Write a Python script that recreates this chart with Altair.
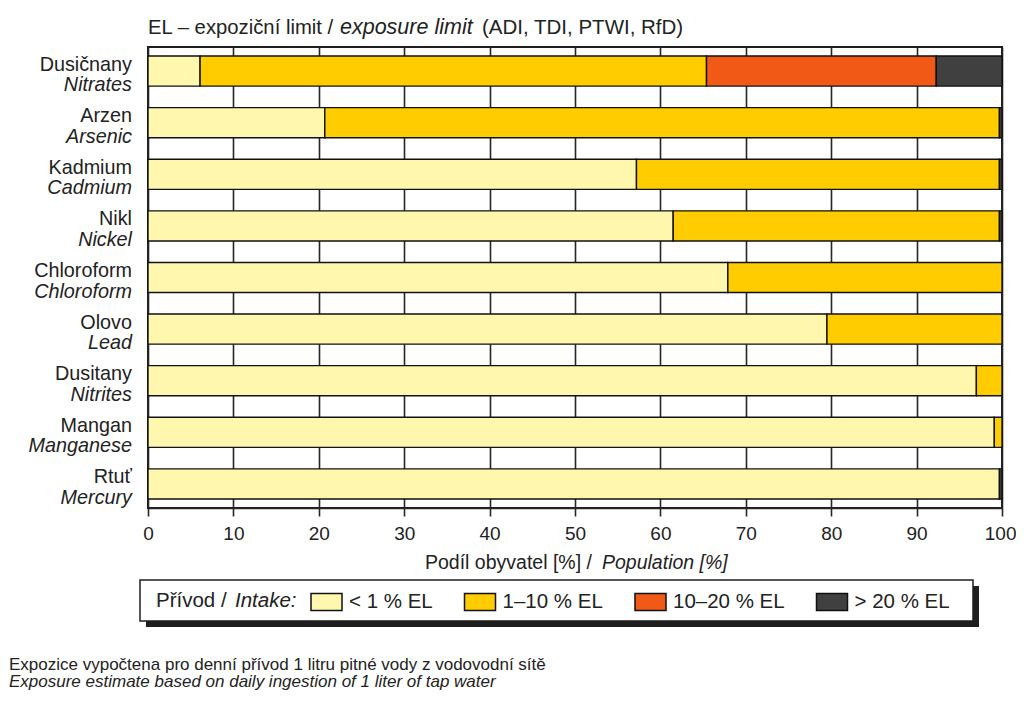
import altair as alt
import pandas as pd

# ---- data ----
substances_cz = ["Dusičnany", "Arzen", "Kadmium", "Nikl", "Chloroform",
                 "Olovo", "Dusitany", "Mangan", "Rtuť"]
substances_en = ["Nitrates", "Arsenic", "Cadmium", "Nickel", "Chloroform",
                 "Lead", "Nitrites", "Manganese", "Mercury"]
levels = ["< 1 % EL", "1–10 % EL", "10–20 % EL", "> 20 % EL"]
level_colors = ["#FFF7AE", "#FFCC00", "#F15A16", "#404040"]

share_lt1 = [6.1, 20.7, 57.2, 61.5, 67.9, 79.5, 97.0, 99.1, 99.7]
share_1_10 = [59.3, 79.0, 42.5, 38.2, 32.1, 20.5, 3.0, 0.9, 0.0]
share_10_20 = [26.9, 0.0, 0.0, 0.0, 0.0, 0.0, 0.0, 0.0, 0.0]
share_gt20 = [7.7, 0.3, 0.3, 0.3, 0.0, 0.0, 0.0, 0.0, 0.3]

x_ticks = [0, 10, 20, 30, 40, 50, 60, 70, 80, 90, 100]

FONT = "Liberation Sans"
INK = "#222222"

rows = []
series = [share_lt1, share_1_10, share_10_20, share_gt20]
for i, (cz, en) in enumerate(zip(substances_cz, substances_en)):
    for k, (lev, vals) in enumerate(zip(levels, series)):
        if vals[i] > 0:
            rows.append({"cz": cz, "en": en, "level": lev, "k": k, "value": vals[i]})
df = pd.DataFrame(rows)
lab = pd.DataFrame({"cz": substances_cz, "en": substances_en})
one = pd.DataFrame({"a": [0]})

yenc = alt.Y("cz:N", sort=substances_cz, axis=None,
             scale=alt.Scale(paddingInner=0.417, paddingOuter=0.175))

bars = alt.Chart(df).mark_bar(stroke="#111111", strokeWidth=1.4).encode(
    x=alt.X("value:Q", stack="zero",
            scale=alt.Scale(domain=[0, 100], nice=False),
            axis=alt.Axis(values=x_ticks, format="d", title=None,
                          grid=True, gridColor="#262626", gridWidth=1.6,
                          tickColor="#262626", tickWidth=1.6, tickSize=8,
                          domainColor="#262626", domainWidth=1.6,
                          labelFontSize=19, labelColor=INK, labelFont=FONT,
                          labelPadding=8, labelFlush=False,
                          labelAlign=alt.ExprRef("datum.value == 100 ? 'right' : 'center'"),
                          labelOffset=alt.ExprRef("datum.value == 100 ? 14 : 0"))),
    y=yenc,
    color=alt.Color("level:N", scale=alt.Scale(domain=levels, range=level_colors),
                    legend=alt.Legend(orient="none", legendX=162, legendY=538,
                                      direction="horizontal", title=None,
                                      symbolType="M-1,-0.55L1,-0.55L1,0.55L-1,0.55Z",
                                      symbolSize=961, symbolStrokeColor="#111111",
                                      symbolStrokeWidth=1.5, symbolOpacity=1,
                                      labelFontSize=20.5, labelFont=FONT,
                                      labelColor=INK, labelOffset=6,
                                      columnPadding=28.5, labelLimit=0)),
    order=alt.Order("k:Q"),
)

lab_cz = alt.Chart(lab).mark_text(align="right", baseline="middle", dy=-6.5,
                                  fontSize=19.8, font=FONT, color=INK).encode(
    y=yenc, x=alt.value(-16), text="cz:N")
lab_en = alt.Chart(lab).mark_text(align="right", baseline="middle", dy=14,
                                  fontSize=19.8, font=FONT, color=INK,
                                  fontStyle="italic").encode(
    y=yenc, x=alt.value(-16), text="en:N")


def txt(s, x, y, size, italic=False, align="left"):
    kw = dict(align=align, baseline="middle", fontSize=size, font=FONT, color=INK)
    if italic:
        kw["fontStyle"] = "italic"
    return alt.Chart(one).mark_text(**kw).encode(
        x=alt.value(x), y=alt.value(y), text=alt.value(s))


title_parts = [
    txt("EL – expoziční limit /", 0, -19, 20.3),
    txt("exposure limit", 192, -19, 21.5, italic=True),
    txt("(ADI, TDI, PTWI, RfD)", 334, -19, 20.5),
]
xtitle_parts = [
    txt("Podíl obyvatel [%] /", 277, 516, 19.5),
    txt("Population [%]", 454, 516, 19.5, italic=True),
]

shadow = alt.Chart(one).mark_rect(fill="#1e1e1e").encode(
    x=alt.value(-2), x2=alt.value(831), y=alt.value(539), y2=alt.value(580))
box = alt.Chart(one).mark_rect(fill="white", stroke="#1e1e1e", strokeWidth=1.5).encode(
    x=alt.value(-8), x2=alt.value(825), y=alt.value(533), y2=alt.value(574))
legend_title = [
    txt("Přívod /", 8, 554, 20.5),
    txt("Intake:", 87, 554, 20.5, italic=True),
]
footer = [
    txt("Expozice vypočtena pro denní přívod 1 litru pitné vody z vodovodní sítě", -139, 618, 17),
    txt("Exposure estimate based on daily ingestion of 1 liter of tap water", -139, 635, 17, italic=True),
]

chart = alt.layer(
    bars, lab_cz, lab_en, *title_parts, *xtitle_parts,
    shadow, box, *legend_title, *footer
).properties(
    width=854, height=461,
    padding={"left": 140, "top": 39, "right": 14, "bottom": 188},
    autosize=alt.AutoSizeParams(type="none"),
).configure_view(stroke="#1e1e1e", strokeWidth=2)

chart.save("out.html", embed_options={"renderer": "svg", "actions": False})
